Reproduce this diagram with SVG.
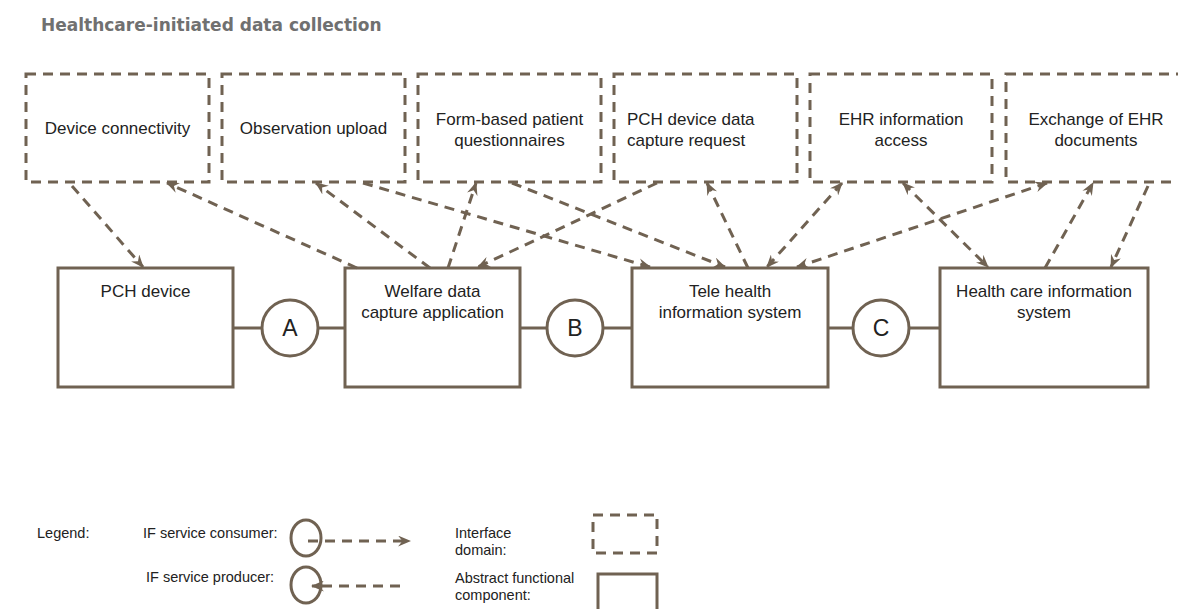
<svg xmlns="http://www.w3.org/2000/svg" width="1178" height="609" viewBox="0 0 1178 609">
<defs>
<style>
.dom{fill:none;stroke:#706252;stroke-width:3;stroke-dasharray:10 7}
.comp{fill:#fff;stroke:#706252;stroke-width:3}
.lnk{fill:none;stroke:#706252;stroke-width:3}
.if{fill:#fff;stroke:#706252;stroke-width:3}
.con{fill:none;stroke:#706252;stroke-width:3;stroke-dasharray:10 7}
.t{font-family:"Liberation Sans",Arial,sans-serif;font-size:17px;fill:#222}
.tm{text-anchor:middle}
.lt{font-family:"Liberation Sans",Arial,sans-serif;font-size:14.5px;fill:#222}
.ifl{font-family:"Liberation Sans",Arial,sans-serif;font-size:23px;fill:#222;text-anchor:middle}
.title{font-family:"DejaVu Sans",Verdana,sans-serif;font-weight:bold;font-size:17px;fill:#707070}
</style>
<marker id="ah" viewBox="0 0 12 10" refX="11" refY="5" markerWidth="13" markerHeight="11" markerUnits="userSpaceOnUse" orient="auto-start-reverse">
<path d="M0,0 L12,5 L0,10 L4,5 Z" fill="#706252"/>
</marker>
</defs>
<rect width="1178" height="609" fill="#fff"/>
<text class="title" x="41" y="31">Healthcare-initiated data collection</text>

<g id="domains">
<g id="d-device-connectivity"><rect class="dom" x="26" y="74" width="183" height="108"/><text class="t tm" x="117.5" y="134">Device connectivity</text></g>
<g id="d-observation-upload"><rect class="dom" x="222" y="74" width="183" height="108"/><text class="t tm" x="313.5" y="134">Observation upload</text></g>
<g id="d-form-based"><rect class="dom" x="418" y="74" width="183" height="108"/><text class="t tm" x="509.5" y="125">Form-based patient</text><text class="t tm" x="509.5" y="146">questionnaires</text></g>
<g id="d-pch-capture"><rect class="dom" x="614" y="74" width="183" height="108"/><text class="t" x="627" y="125">PCH device data</text><text class="t" x="627" y="146">capture request</text></g>
<g id="d-ehr-access"><rect class="dom" x="810" y="74" width="182" height="108"/><text class="t tm" x="901" y="125">EHR information</text><text class="t tm" x="901" y="146">access</text></g>
<g id="d-ehr-exchange"><rect class="dom" x="1006" y="74" width="190" height="108"/><text class="t tm" x="1096" y="125">Exchange of EHR</text><text class="t tm" x="1096" y="146">documents</text></g>
</g>

<g id="links">
<line class="lnk" x1="233" y1="328" x2="345" y2="328"/>
<line class="lnk" x1="520" y1="328" x2="632" y2="328"/>
<line class="lnk" x1="828" y1="328" x2="940" y2="328"/>
</g>

<g id="pch-device"><rect class="comp" x="58" y="268" width="175" height="119"/><text class="t tm" x="145.5" y="297">PCH device</text></g>
<g id="welfare-app"><rect class="comp" x="345" y="268" width="175" height="119"/><text class="t tm" x="432.5" y="297">Welfare data</text><text class="t tm" x="432.5" y="318">capture application</text></g>
<g id="tele-health"><rect class="comp" x="632" y="268" width="196" height="119"/><text class="t tm" x="730" y="297">Tele health</text><text class="t tm" x="730" y="318">information system</text></g>
<g id="health-care-is"><rect class="comp" x="940" y="268" width="208" height="119"/><text class="t tm" x="1044" y="297">Health care information</text><text class="t tm" x="1044" y="318">system</text></g>

<g id="if-a"><circle class="if" cx="290" cy="328" r="28"/><text class="ifl" x="290" y="336">A</text></g>
<g id="if-b"><circle class="if" cx="575" cy="328" r="28"/><text class="ifl" x="575" y="336">B</text></g>
<g id="if-c"><circle class="if" cx="881" cy="328" r="28"/><text class="ifl" x="881" y="336">C</text></g>

<g id="connectors">
<line class="con" x1="72" y1="186" x2="143" y2="267" marker-end="url(#ah)"/>
<line class="con" x1="357" y1="268" x2="167" y2="183" marker-end="url(#ah)"/>
<line class="con" x1="430" y1="268" x2="316" y2="183" marker-end="url(#ah)"/>
<line class="con" x1="448" y1="268" x2="476" y2="183" marker-end="url(#ah)"/>
<line class="con" x1="363" y1="183" x2="650" y2="267" marker-end="url(#ah)"/>
<line class="con" x1="512" y1="183" x2="725" y2="267" marker-end="url(#ah)"/>
<line class="con" x1="657" y1="183" x2="478" y2="267" marker-end="url(#ah)"/>
<line class="con" x1="748" y1="268" x2="707" y2="183" marker-end="url(#ah)"/>
<line class="con" x1="842" y1="183" x2="767" y2="267" marker-start="url(#ah)" marker-end="url(#ah)"/>
<line class="con" x1="1047" y1="183" x2="797" y2="267" marker-start="url(#ah)" marker-end="url(#ah)"/>
<line class="con" x1="903" y1="183" x2="988" y2="267" marker-start="url(#ah)" marker-end="url(#ah)"/>
<line class="con" x1="1045" y1="268" x2="1093" y2="183" marker-end="url(#ah)"/>
<line class="con" x1="1148" y1="186" x2="1111" y2="267" marker-end="url(#ah)"/>
</g>

<g id="legend">
<text class="lt" x="37" y="538">Legend:</text>
<text class="lt" x="143" y="538">IF service consumer:</text>
<ellipse class="if" cx="306" cy="538" rx="15" ry="18" fill="none"/>
<line class="con" x1="308" y1="541" x2="410" y2="541" stroke-dasharray="9 7" marker-end="url(#ah)"/>
<text class="lt" x="146" y="582">IF service producer:</text>
<ellipse class="if" cx="306" cy="585" rx="15" ry="18"/>
<line class="con" x1="400" y1="586" x2="312" y2="586" stroke-dasharray="9 7" marker-end="url(#ah)"/>
<text class="lt" x="455" y="538">Interface</text>
<text class="lt" x="455" y="555">domain:</text>
<rect class="dom" x="593" y="515" width="64" height="38"/>
<text class="lt" x="455" y="583">Abstract functional</text>
<text class="lt" x="455" y="600">component:</text>
<rect class="comp" x="598" y="574" width="59" height="42"/>
</g>
</svg>
